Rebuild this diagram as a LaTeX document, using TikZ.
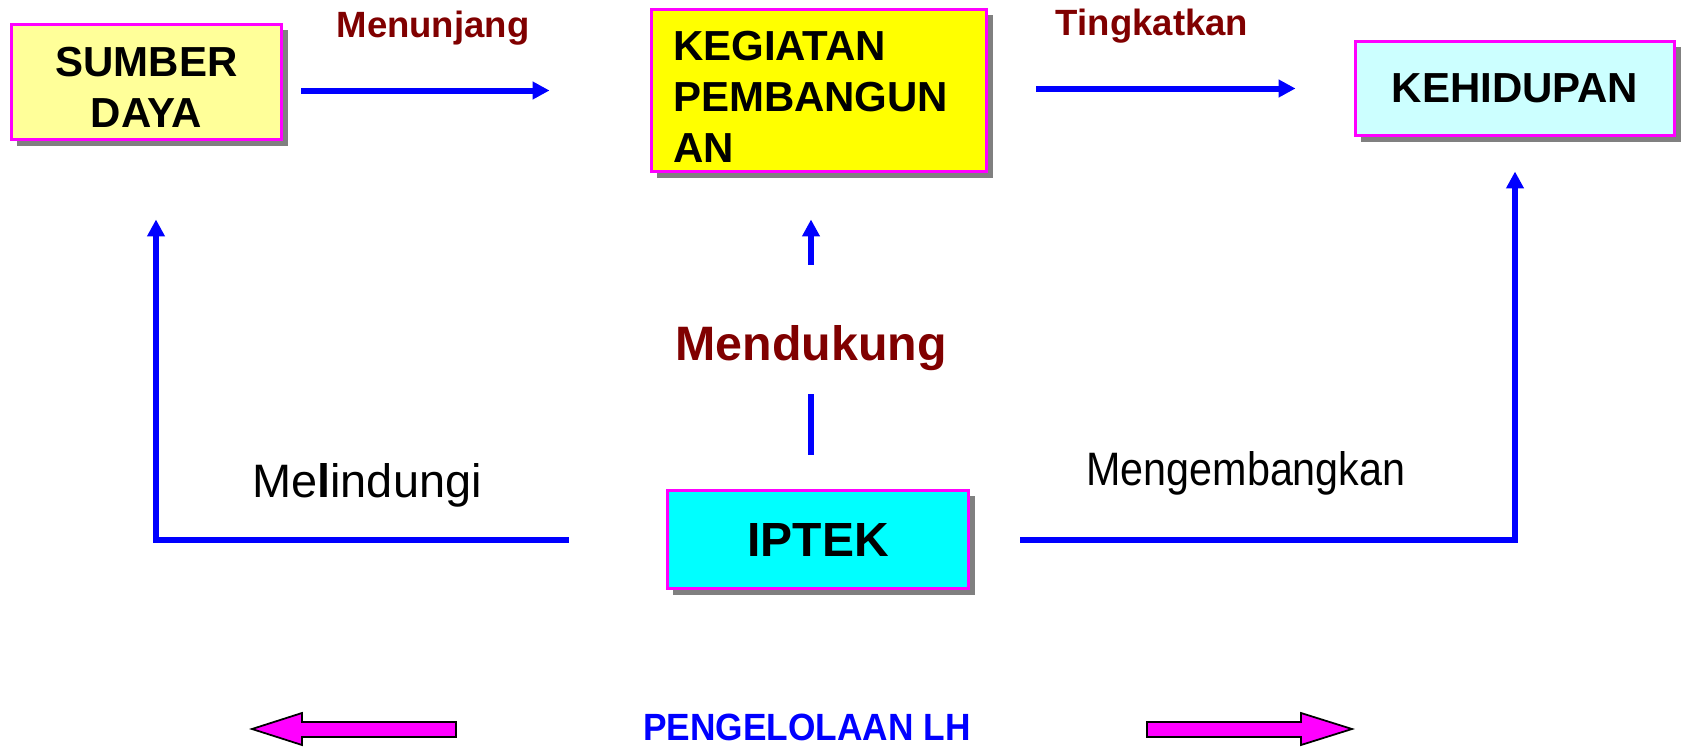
\documentclass[tikz,border=0pt]{standalone}
\usepackage{fontspec}
\setmainfont{Liberation Sans}
\newfontfamily\narrowsans[FakeStretch=0.88]{Liberation Sans}
\newfontfamily\slimsans[FakeStretch=0.93]{Liberation Sans}
\usetikzlibrary{shadows,arrows.meta}

\definecolor{pinkline}{RGB}{255,0,255}
\definecolor{paleyellow}{RGB}{255,255,153}
\definecolor{brightyellow}{RGB}{255,255,0}
\definecolor{paleaqua}{RGB}{204,255,255}
\definecolor{aqua}{RGB}{0,255,255}
\definecolor{darkred}{RGB}{128,0,0}
\definecolor{flowblue}{RGB}{0,0,255}

\tikzset{
  box/.style={draw=pinkline, line width=0.06cm, inner sep=0pt,
    font=\fontsize{23.9}{28.9}\selectfont\bfseries,
    drop shadow={shadow xshift=0.12cm, shadow yshift=-0.12cm, fill=gray, opacity=1}},
  stem/.style={draw=flowblue, line width=0.12cm},
  flow/.style={stem, -{Triangle[length=0.34cm, width=0.34cm]}},
  verb/.style={text=darkred, anchor=base, inner sep=0pt,
    font=\fontsize{20.8}{25}\selectfont\bfseries},
  note/.style={anchor=base, inner sep=0pt, font=\narrowsans\fontsize{26.7}{32}\selectfont},
  fatarrow/.style={fill=pinkline, draw=black, line width=1pt, line join=miter}
}

\begin{document}
\begin{tikzpicture}[x=0.02cm, y=-0.02cm]
    \useasboundingbox (0,0) rectangle (1684,747);

    % boxes
    \node[box, fill=paleyellow, minimum width=5.42cm, minimum height=2.32cm, align=center]
        (sumber) at (146.5,82) {\rule{0pt}{0.8cm}SUMBER\\DAYA};
    \node[box, fill=brightyellow, minimum width=6.72cm, minimum height=3.26cm, text width=5.84cm, align=left]
        (kegiatan) at (819,90.5) {\rule{0pt}{0.84cm}KEGIATAN\\PEMBANGUN\\AN};
    \node[box, fill=paleaqua, minimum width=6.4cm, minimum height=1.9cm]
        (kehidupan) at (1515,88.5) {KEHIDUPAN};
    \node[box, fill=aqua, minimum width=6.04cm, minimum height=1.98cm, font=\fontsize{27.3}{32}\selectfont\bfseries]
        (iptek) at (818,539.5) {IPTEK};

    % labels
    \node[verb] (menunjang) at (433,37) {Menunjang};
    \node[verb] (tingkatkan) at (1152,35) {Tingkatkan};
    \node[verb, font=\fontsize{27.5}{32}\selectfont\bfseries] (mendukung) at (811,360) {Mendukung};
    \node[note, font=\fontsize{26.7}{32}\selectfont] (melindungi) at (367,497) {Me\textbf{l}indungi};
    \node[note] (mengembangkan) at (1246,485) {Mengembangkan};

    % connectors
    \draw[flow, shorten <=0.36cm, shorten >=2cm] (sumber.east |- kegiatan.west) -- (kegiatan.west);
    \draw[flow, shorten <=0.96cm, shorten >=1.16cm] (kegiatan.east |- kehidupan.west) -- (kehidupan.west);
    \draw[flow, shorten <=1.94cm, shorten >=1.56cm] (iptek.west) -| ([xshift=0.19cm]sumber.south);
    \draw[flow, shorten <=1cm, shorten >=0.68cm] (iptek.east) -| (kehidupan.south);
    \draw[stem, shorten <=0.68cm, shorten >=0.46cm] (iptek.north -| mendukung.south) -- (mendukung.south);
    \draw[flow, shorten <=1.2cm, shorten >=0.92cm] (mendukung.north) -- (mendukung.north |- kegiatan.south);

    % bottom
    \node[anchor=base, inner sep=0pt, text=flowblue, font=\slimsans\fontsize{21.6}{26}\selectfont\bfseries]
        (pengelolaan) at (807,740) {PENGELOLAAN LH};
    \draw[fatarrow] (456,722) -- (302,722) -- (302,713) -- (252,729) -- (302,745) -- (302,737) -- (456,737) -- cycle;
    \draw[fatarrow] (1147,722) -- (1301,722) -- (1301,713) -- (1352,729) -- (1301,745) -- (1301,737) -- (1147,737) -- cycle;
\end{tikzpicture}
\end{document}
